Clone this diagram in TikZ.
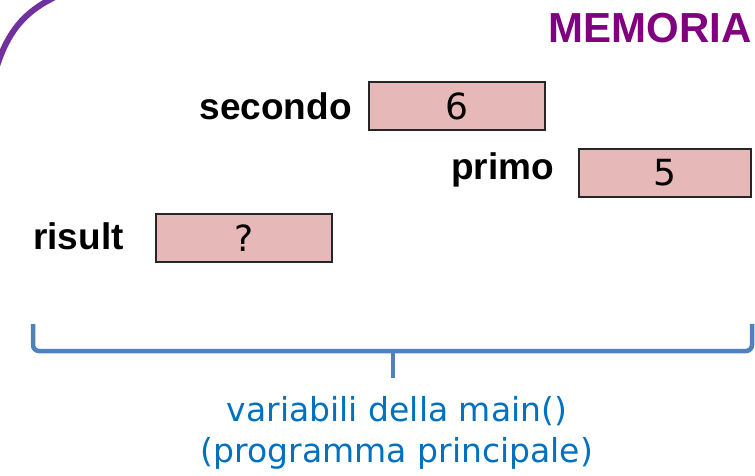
\documentclass[tikz,border=0pt]{standalone}
\usepackage{fontspec}
\setmainfont{Liberation Sans}
\newfontfamily\comicfont{DejaVu Sans}
\definecolor{memviolet}{HTML}{800080}
\definecolor{arcviolet}{HTML}{7030A0}
\definecolor{boxpink}{HTML}{E6B9B8}
\definecolor{braceblue}{HTML}{4F81BD}
\definecolor{textblue}{HTML}{0070C0}
\tikzset{
  varbox/.style={draw=black!85, line width=1.3pt, fill=boxpink, minimum height=48pt, inner sep=0pt, font=\comicfont\fontsize{36}{40}\selectfont},
  varlabel/.style={font=\bfseries\fontsize{37}{40}\selectfont, inner sep=0pt},
  bracestyle/.style={draw=braceblue, line width=4.5pt, line cap=butt},
}
\begin{document}
\begin{tikzpicture}[x=1pt,y=-1pt]
\useasboundingbox (0,0) rectangle (755,475);
% purple rounded corner
\draw[arcviolet, line width=6pt] (-3,66) .. controls (8,32) and (24,12) .. (55,-3);
% title
\node[anchor=east, text=memviolet, font=\bfseries\fontsize{42}{44}\selectfont, inner sep=0pt] (mem) at (752,28) {MEMORIA};
% boxes
\node[varbox, minimum width=176pt] (b6) at (457,106) {6};
\node[varbox, minimum width=172pt] (b5) at (665,173) {5};
\node[varbox, minimum width=176pt] (bq) at (244,238) {?};
% labels
\node[varlabel, anchor=east] (l6) at (352,106) {secondo};
\node[varlabel, anchor=east] (l5) at (554,170) {primo};
\node[varlabel, anchor=west] (lq) at (33,236) {risult};
% brace
\coordinate (bl) at (33,324);
\coordinate (br) at (752,324);
\coordinate (bm) at (393,351);
\coordinate (bt) at (393,378);
\draw[bracestyle, rounded corners=6pt] (bl) |- (bm);
\draw[bracestyle, rounded corners=6pt] (br) |- (bm);
\draw[bracestyle] (bm) -- (bt);
% caption
\node[text=textblue, font=\comicfont\fontsize{33}{41}\selectfont, align=center, anchor=base, inner sep=0pt] (cap) at (397,462) {variabili della main()\\(programma principale)};
\end{tikzpicture}
\end{document}
